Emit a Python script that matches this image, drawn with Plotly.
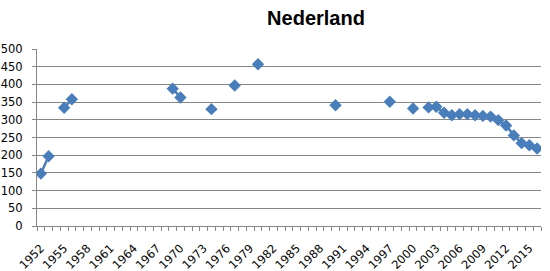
import plotly.graph_objects as go

title = "Nederland"
years = [1952, 1953, 1955, 1956, 1969, 1970, 1974, 1977, 1980, 1990, 1997, 2000,
         2002, 2003, 2004, 2005, 2006, 2007, 2008, 2009, 2010, 2011, 2012, 2013,
         2014, 2015, 2016]
values = [148, 197, 334, 358, 388, 363, 330, 397, 457, 341, 351, 332,
          335, 337, 320, 313, 316, 316, 313, 311, 309, 299, 284, 256,
          234, 228, 219]
first_year, last_year = 1952, 2016
label_years = list(range(1952, 2017, 3))
y_ticks = list(range(0, 501, 50))

lookup = dict(zip(years, values))
all_years = list(range(first_year, last_year + 1))
all_vals = [lookup.get(y) for y in all_years]

color = "#4A7EBB"
grid = "#868686"
font_fam = "DejaVu Sans, Verdana, sans-serif"

fig = go.Figure()
fig.add_trace(go.Scatter(
    x=all_years, y=all_vals, mode="lines+markers", connectgaps=False,
    line=dict(color=color, width=2.5),
    marker=dict(symbol="diamond", size=9.5, color=color),
    showlegend=False,
))

fig.update_layout(
    width=550, height=271,
    margin=dict(l=37, r=9, t=49, b=45),
    paper_bgcolor="white", plot_bgcolor="white",
    title=dict(text="<b>" + title + "</b>", x=316 / 550, xanchor="center",
               y=1 - 18 / 271, yanchor="middle",
               font=dict(family="Liberation Sans, Arial, sans-serif", size=20, color="black")),
    font=dict(family=font_fam, size=11, color="black"),
)
fig.update_xaxes(
    range=[first_year - 0.5, last_year + 0.5], automargin=False,
    tickmode="array", tickvals=label_years, ticktext=[str(y) for y in label_years],
    tickangle=-45, ticks="", showgrid=False,
    showline=True, linecolor=grid, linewidth=1,
    minor=dict(tickmode="linear", tick0=first_year - 0.5, dtick=1, ticks="outside",
               ticklen=4, tickcolor=grid, showgrid=False),
    tickfont=dict(size=11.5), ticklabelstandoff=10, fixedrange=True,
)
fig.update_yaxes(
    range=[0, 500], tickmode="array", tickvals=y_ticks, automargin=False,
    ticks="outside", ticklen=4, tickcolor=grid,
    showgrid=True, gridcolor=grid, gridwidth=1,
    showline=True, linecolor=grid, linewidth=1,
    zeroline=False, tickfont=dict(size=11.5), ticklabelstandoff=7,
)

fig.write_html("out.html")
